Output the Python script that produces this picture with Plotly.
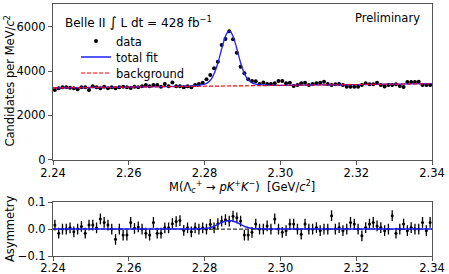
import numpy as np
import plotly.graph_objects as go

# ---------------- data ----------------
mass_start = 2.2405   # first bin centre [GeV/c^2]
bin_width = 0.001     # 1 MeV bins
counts = [
    3150, 3220, 3265, 3265, 3250, 3220, 3180, 3265, 3265, 3150,
    3320, 3265, 3225, 3295, 3225, 3265, 3225, 3265, 3295, 3265,
    3240, 3295, 3265, 3320, 3370, 3320, 3370, 3370, 3295, 3415,
    3320, 3490, 3320, 3320, 3265, 3320, 3265, 3370, 3415, 3470,
    3630, 3820, 4125, 4425, 5180, 5450, 5800, 5440, 4830, 4200,
    3900, 3630, 3550, 3540, 3416, 3490, 3416, 3416, 3446, 3552,
    3552, 3446, 3477, 3326, 3371, 3446, 3477, 3371, 3416, 3446,
    3477, 3522, 3416, 3371, 3401, 3416, 3371, 3290, 3290, 3290,
    3290, 3371, 3446, 3401, 3401, 3477, 3371, 3300, 3371, 3371,
    3401, 3330, 3280, 3507, 3507, 3507, 3522, 3371, 3371, 3371,
]
asym = [
    0.015, -0.015, 0.0, 0.0, 0.005, -0.01, 0.0, 0.01, -0.015, 0.015,
    0.015, 0.005, 0.038, 0.025, 0.015, 0.0, -0.038, 0.0, -0.022, -0.022,
    0.025, 0.003, 0.008, 0.0, -0.015, -0.022, 0.025, -0.015, -0.015, 0.005,
    0.005, 0.02, 0.028, 0.032, -0.005, 0.005, -0.01, 0.005, 0.0, 0.005,
    0.0, 0.018, 0.005, 0.02, 0.03, 0.035, 0.03, 0.048, 0.042, 0.03,
    -0.022, -0.022, -0.012, 0.019, 0.0, 0.0, 0.012, 0.0, 0.038, 0.0,
    -0.012, -0.006, 0.019, 0.019, 0.0, -0.019, 0.019, 0.0, 0.0, 0.006,
    -0.006, 0.0, 0.0, 0.05, 0.0, 0.006, -0.006, 0.0, 0.025, 0.019,
    0.0, -0.025, 0.006, 0.019, 0.025, 0.012, 0.006, -0.006, 0.0, 0.05,
    -0.015, 0.0, 0.019, -0.006, 0.006, 0.0, 0.0, 0.025, -0.006, 0.025,
]
asym_err = 0.02

fit_mass = [2.240, 2.250, 2.260, 2.2685, 2.2725, 2.2745, 2.2765, 2.2785, 2.2795,
            2.2805, 2.2810, 2.2815, 2.2820, 2.2825, 2.2830, 2.2835, 2.2840, 2.2845,
            2.2850, 2.2855, 2.2860, 2.2865, 2.2870, 2.2875, 2.2880, 2.2885, 2.2890,
            2.2895, 2.2900, 2.2905, 2.2910, 2.2915, 2.2925, 2.2935, 2.2945, 2.2965,
            2.2985, 2.3005, 2.310, 2.320, 2.330, 2.340]
fit_total = [3240, 3259, 3278, 3295, 3305, 3314, 3329, 3358, 3386,
             3447, 3502, 3586, 3708, 3876, 4096, 4367, 4678, 5004,
             5318, 5575, 5747, 5808, 5749, 5578, 5322, 5011, 4687,
             4378, 4109, 3891, 3725, 3605, 3470, 3413, 3389, 3367,
             3359, 3358, 3373, 3392, 3411, 3430]
fit_asym = [0.0, 0.0, 0.0, 0.0, 0.0, 0.0002, 0.0004, 0.001, 0.0015,
            0.0028, 0.0038, 0.0054, 0.0076, 0.0104, 0.0138, 0.0174, 0.0211, 0.0245,
            0.0274, 0.0295, 0.0308, 0.031, 0.0308, 0.0295, 0.0274, 0.0245, 0.0211,
            0.0174, 0.0138, 0.0104, 0.0076, 0.0054, 0.0028, 0.0015, 0.001, 0.0004,
            0.0002, 0.0, 0.0, 0.0, 0.0, 0.0]
bkg_mass = [2.24, 2.34]
bkg_counts = [3240, 3430]
zero_asym = [0.0, 0.0]

x_ticks = [2.24, 2.26, 2.28, 2.30, 2.32, 2.34]
y_ticks = [0, 2000, 4000, 6000]
a_ticks = [-0.1, 0.0, 0.1]
a_ticktext = ["\u22120.1", "0.0", "0.1"]

mass = np.round(mass_start + bin_width * np.arange(len(counts)), 4)

# ---------------- figure ----------------
W, H = 449, 274
FONT = "DejaVu Sans"
FS = 11.5

fig = go.Figure()

fig.add_trace(go.Scatter(
    x=mass, y=counts, mode="markers", name="data", legend="legend",
    marker=dict(color="black", size=4),
    error_y=dict(type="sqrt", color="black", thickness=1, width=0),
    xaxis="x", yaxis="y"))
fig.add_trace(go.Scatter(
    x=fit_mass, y=fit_total, mode="lines", name="total fit", legend="legend2",
    line=dict(color="#1f1fff", width=1.3, shape="spline", smoothing=0.6),
    xaxis="x", yaxis="y"))
fig.add_trace(go.Scatter(
    x=bkg_mass, y=bkg_counts, mode="lines", name="background", legend="legend3",
    line=dict(color="red", width=1.2, dash="4px,2px"),
    xaxis="x", yaxis="y"))

# asymmetry panel
fig.add_trace(go.Scatter(
    x=bkg_mass, y=zero_asym, mode="lines", showlegend=False,
    line=dict(color="black", width=1, dash="4px,2px"),
    xaxis="x2", yaxis="y2"))
fig.add_trace(go.Scatter(
    x=mass, y=asym, mode="markers", showlegend=False,
    marker=dict(color="black", size=3),
    error_y=dict(type="constant", value=asym_err, color="black", thickness=1.3, width=0),
    xaxis="x2", yaxis="y2"))
fig.add_trace(go.Scatter(
    x=fit_mass, y=fit_asym, mode="lines", showlegend=False,
    line=dict(color="#1f1fff", width=1.5, shape="spline", smoothing=0.6),
    xaxis="x2", yaxis="y2"))

def px_x(p):
    return p / W

def px_y(p):
    return 1 - p / H

axis_common = dict(
    showgrid=False, zeroline=False, showline=True, linecolor="#555", linewidth=1,
    mirror=True, ticks="outside", ticklen=4, tickwidth=1, tickcolor="#555",
    automargin=False,
    tickfont=dict(family=FONT, size=FS, color="black"),
)

def leg(ypx):
    return dict(x=px_x(76), y=px_y(ypx), xanchor="left", yanchor="middle",
                bgcolor="rgba(0,0,0,0)", borderwidth=0,
                font=dict(family=FONT, size=FS), itemwidth=30)

fig.update_layout(
    width=W, height=H, autosize=False,
    margin=dict(l=0, r=0, t=0, b=0, pad=0, autoexpand=False),
    paper_bgcolor="white", plot_bgcolor="white",
    font=dict(family=FONT, size=FS, color="black"),
    xaxis=dict(domain=[px_x(53), px_x(432)], range=[2.24, 2.34], anchor="y",
               tickvals=x_ticks, tickformat=".2f", ticklabelstandoff=-1,
               **axis_common),
    yaxis=dict(domain=[px_y(159.5), px_y(3.5)], range=[0, 7060], anchor="x",
               tickvals=y_ticks, **axis_common),
    xaxis2=dict(domain=[px_x(53), px_x(432)], range=[2.24, 2.34], anchor="y2",
                tickvals=x_ticks, tickformat=".2f", ticklabelstandoff=-3,
                **axis_common),
    yaxis2=dict(domain=[px_y(256), px_y(201.7)], range=[-0.1, 0.102], anchor="x2",
                tickvals=a_ticks, ticktext=a_ticktext, **axis_common),
    showlegend=True,
    legend=leg(41), legend2=leg(57), legend3=leg(73),
)

fig.add_annotation(xref="paper", yref="paper", x=px_x(63), y=px_y(22.5),
                   xanchor="left", yanchor="middle", showarrow=False,
                   text="Belle II <span style='font-size:14px'>\u222b</span> L dt = 428 fb<sup>\u22121</sup>",
                   font=dict(family=FONT, size=12))
fig.add_annotation(xref="paper", yref="paper", x=px_x(422), y=px_y(18),
                   xanchor="right", yanchor="middle", showarrow=False,
                   text="Preliminary", font=dict(family=FONT, size=FS))
fig.add_annotation(xref="paper", yref="paper", x=px_x(242), y=px_y(187),
                   xanchor="center", yanchor="middle", showarrow=False,
                   text="M(\u039b<sub><i>c</i></sub><sup>+</sup> \u2192 <i>pK</i><sup>+</sup><i>K</i><sup>\u2212</sup>)  [GeV/<i>c</i><sup>2</sup>]",
                   font=dict(family=FONT, size=FS))
fig.add_annotation(xref="paper", yref="paper", x=px_x(10), y=px_y(81.5),
                   xanchor="center", yanchor="middle", showarrow=False, textangle=-90,
                   text="Candidates per MeV/<i>c</i><sup>2</sup>",
                   font=dict(family=FONT, size=FS))
fig.add_annotation(xref="paper", yref="paper", x=px_x(10), y=px_y(229),
                   xanchor="center", yanchor="middle", showarrow=False, textangle=-90,
                   text="Asymmetry", font=dict(family=FONT, size=FS))

fig.write_html("out.html", config={"displayModeBar": False},
               post_script="document.body.style.margin='0px';")
